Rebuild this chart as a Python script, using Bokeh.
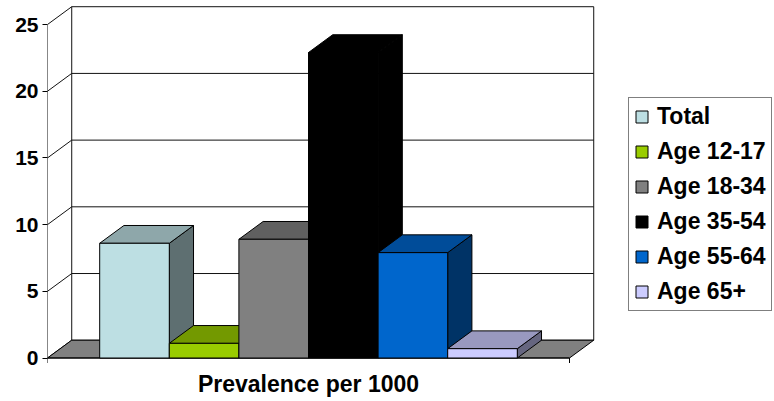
from bokeh.plotting import figure
from bokeh.models import (Range1d, FixedTicker, Legend, LegendItem, Label,
                          ColumnDataSource)
from bokeh.embed import file_html
from bokeh.resources import INLINE

# ---------------- data ----------------
series = ["Total", "Age 12-17", "Age 18-34", "Age 35-54", "Age 55-64", "Age 65+"]
values = [8.6, 1.1, 8.9, 22.9, 7.9, 0.7]
front_colors = ["#BDDFE3", "#99CC00", "#808080", "#000000", "#0066CC", "#CCCCFF"]
top_colors = ["#8EA7AA", "#739900", "#606060", "#000000", "#004C99", "#9999BF"]
side_colors = ["#5E6F71", "#4D6600", "#404040", "#000000", "#003366", "#666680"]
y_ticks = [0, 5, 10, 15, 20, 25]
category_label = "Prevalence per 1000"

# ---------------- geometry (3-D projection, in data units) ----------------
GAP = 0.75            # gap on each side of the bar group, in bar widths
SPAN = len(series) + 2 * GAP
DX = 0.348            # depth offset along x
DY = 1.334            # depth offset along y
YMAX = y_ticks[-1]
FONT = "Liberation Sans"

p = figure(width=774, height=401, output_backend="svg", toolbar_location=None,
           x_range=Range1d(0, 727 / 69.6), y_range=Range1d(-3.26, 26.80),
           min_border_left=47, min_border_right=0, min_border_top=0,
           min_border_bottom=0)
p.xaxis.visible = False
p.xgrid.visible = False
p.ygrid.visible = False
p.outline_line_color = None
p.background_fill_color = "white"
p.border_fill_color = "white"

yax = p.yaxis[0]
yax.ticker = FixedTicker(ticks=y_ticks)
yax.axis_line_color = None
yax.minor_tick_line_color = None
yax.major_tick_out = 5
yax.major_tick_in = 0
yax.major_tick_line_color = "black"
yax.major_label_standoff = 4
yax.major_label_text_font = FONT
yax.major_label_text_font_style = "bold"
yax.major_label_text_font_size = "21px"
yax.major_label_text_color = "black"

# ---------------- walls ----------------
LC = "#111111"
grid_t = [t for t in y_ticks]
# back wall horizontal gridlines
p.segment(x0=[DX] * len(grid_t), y0=[t + DY for t in grid_t],
          x1=[SPAN + DX] * len(grid_t), y1=[t + DY for t in grid_t],
          line_color=LC, line_width=1)
# left wall diagonals
p.segment(x0=[0] * len(grid_t), y0=grid_t, x1=[DX] * len(grid_t),
          y1=[t + DY for t in grid_t], line_color=LC, line_width=1)
# vertical edges
p.segment(x0=[0, DX, SPAN + DX], y0=[0, DY, DY],
          x1=[0, DX, SPAN + DX], y1=[YMAX, YMAX + DY, YMAX + DY],
          line_color=LC, line_width=1)

# floor
p.patch(x=[0, SPAN, SPAN + DX, DX], y=[0, 0, DY, DY],
        fill_color="#808080", line_color="black", line_width=1)
# category axis line + end ticks
tick_len = 5 / 13.34
p.segment(x0=[0, 0, SPAN], y0=[0, 0, 0], x1=[SPAN, 0, SPAN],
          y1=[0, -tick_len, -tick_len], line_color="black", line_width=1)

# ---------------- bars ----------------
lefts = [GAP + i for i in range(len(series))]
rights = [GAP + i + 1 for i in range(len(series))]

side_xs = [[r, r + DX, r + DX, r] for r in rights]
side_ys = [[0, DY, v + DY, v] for v in values]
top_xs = [[l, r, r + DX, l + DX] for l, r in zip(lefts, rights)]
top_ys = [[v, v, v + DY, v + DY] for v in values]

p.patches(xs=side_xs, ys=side_ys, fill_color=side_colors,
          line_color="black", line_width=1)
p.patches(xs=top_xs, ys=top_ys, fill_color=top_colors,
          line_color="black", line_width=1)

src = ColumnDataSource(dict(left=lefts, right=rights, top=values,
                            bottom=[0] * len(values), color=front_colors,
                            name=series))
fronts = p.quad(left="left", right="right", top="top", bottom="bottom",
                fill_color="color", line_color="black", line_width=1,
                source=src)

# ---------------- category label ----------------
p.add_layout(Label(x=SPAN / 2, y=-1.95, text=category_label,
                   text_align="center", text_baseline="middle",
                   text_font=FONT, text_font_style="bold",
                   text_font_size="23px", text_color="black"))

# ---------------- legend ----------------
items = [LegendItem(label=s, renderers=[fronts], index=i)
         for i, s in enumerate(series)]
legend = Legend(items=items, location=(581, 90), orientation="vertical",
                border_line_color="black", border_line_width=1,
                background_fill_color="white", background_fill_alpha=1,
                padding=5, margin=0, spacing=8,
                glyph_width=15, glyph_height=15, label_standoff=8,
                label_height=24, label_width=107,
                label_text_font=FONT, label_text_font_style="bold",
                label_text_font_size="23px", label_text_color="black")
p.add_layout(legend, "center")

open("out.html", "w").write(file_html(p, INLINE))
